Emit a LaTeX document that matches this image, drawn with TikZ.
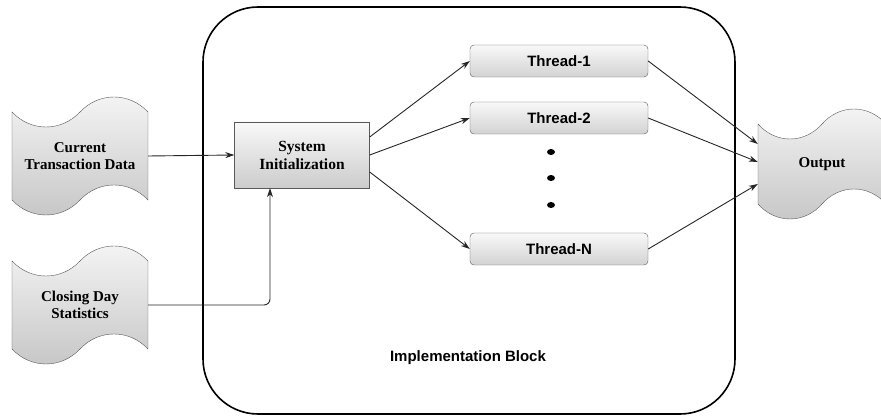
\documentclass[tikz,border=0pt]{standalone}
\usepackage{fontspec}
\setmainfont{Liberation Serif}
\setsansfont{Liberation Sans}
\usetikzlibrary{positioning,shapes.symbols,arrows.meta}

\begin{document}
\begin{tikzpicture}[x=1pt,y=-1pt,>={Stealth[length=9pt,width=6pt]},node distance=57pt,on grid,
    datatape/.style={tape,draw=gray!70!black,top color=gray!8,bottom color=gray!45,
      minimum width=136pt,minimum height=118pt,tape bend height=30pt,
      font=\fontsize{15}{17}\selectfont\bfseries,align=center,inner sep=0pt},
    initbox/.style={rectangle,draw=gray!70!black,top color=gray!5,bottom color=gray!40,
      minimum width=135pt,minimum height=66pt,font=\fontsize{15.5}{18}\selectfont\bfseries,align=center},
    thread/.style={rectangle,rounded corners=4pt,draw=gray!70!black,top color=gray!5,bottom color=gray!35,
      minimum width=178pt,minimum height=32pt,font=\sffamily\fontsize{15}{17}\selectfont\bfseries},
    flow/.style={->,draw=black!85,line width=0.9pt}]
    \useasboundingbox (0,0) rectangle (881,419);

    % implementation block
    \draw[line width=1.6pt,rounded corners=55pt] (203,7) rectangle (735,414);
    \node[font=\sffamily\fontsize{15}{17}\selectfont\bfseries] (blk) at (468,358) {Implementation Block};

    \node[datatape] (cur) at (80,156) {Current\\Transaction Data};
    \node[datatape] (cls) at (80,305) {Closing Day\\Statistics};
    \node[initbox] (sys) at (302,155) {System\\Initialization};

    \node[thread] (t1) at (559,61) {Thread-1};
    \node[thread] (t2) [below=of t1] {Thread-2};
    \node[thread] (tn) [below=131pt of t2] {Thread-N};

    \node[datatape,minimum width=128pt,minimum height=110pt] (out) at (822,164) {Output};

    % dots between threads
    \foreach \y in {152,178,205}
      \fill (551,\y) ellipse (4pt and 3pt);

    \draw[flow] (cur.east) -- (sys.west);
    \draw[flow,rounded corners=6pt] (cls.east) -| ([xshift=-32pt]sys.south);
    \draw[flow] ([yshift=18pt]sys.east) -- (t1.west);
    \draw[flow] (sys.east) -- (t2.west);
    \draw[flow] ([yshift=-17pt]sys.east) -- (tn.west);
    \draw[flow] (t1.east) -- ([yshift=20pt]out.west);
    \draw[flow] (t2.east) -- ([yshift=2pt]out.west);
    \draw[flow] (tn.east) -- ([yshift=-20pt]out.west);
\end{tikzpicture}
\end{document}
